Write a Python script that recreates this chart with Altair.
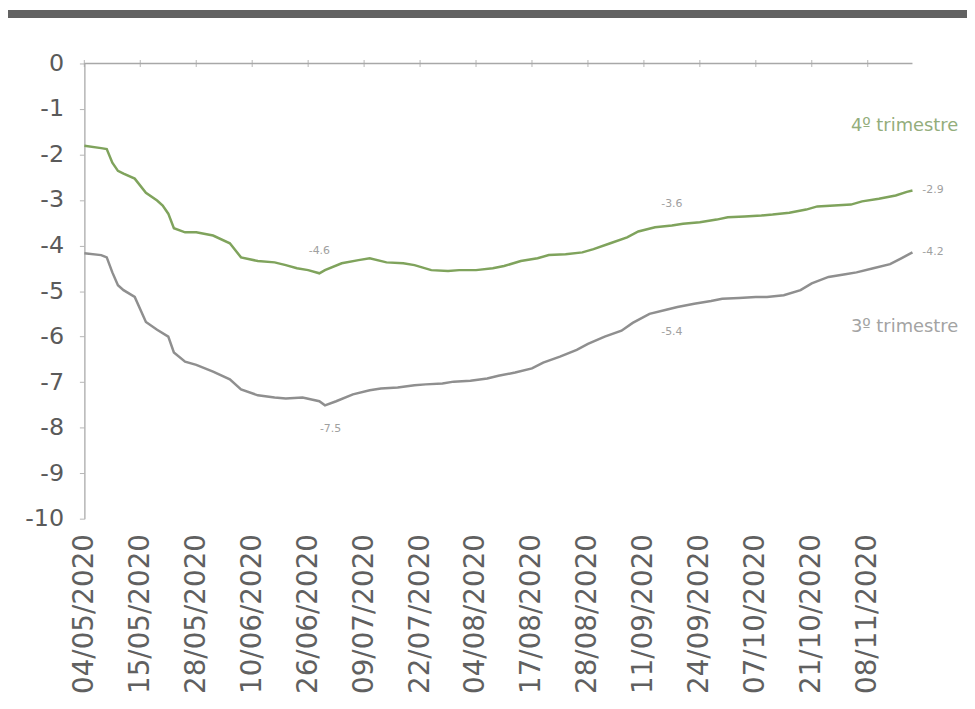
import altair as alt
import pandas as pd

# ---- data ----
tick_labels = ["04/05/2020", "15/05/2020", "28/05/2020", "10/06/2020", "26/06/2020",
               "09/07/2020", "22/07/2020", "04/08/2020", "17/08/2020", "28/08/2020",
               "11/09/2020", "24/09/2020", "07/10/2020", "21/10/2020", "08/11/2020"]
tick_index = [0, 10, 20, 30, 40, 50, 60, 70, 80, 90, 100, 110, 120, 130, 140]

q4_index = [0, 3, 4, 5, 6, 7, 9, 11, 13, 14, 15, 16, 18, 20, 23, 26, 28, 31, 34, 36,
            38, 40, 42, 43, 46, 49, 51, 54, 57, 59, 62, 65, 67, 70, 73, 75, 78, 81, 83, 86,
            89, 91, 94, 97, 99, 102, 105, 107, 110, 113, 115, 118, 121, 123, 126, 129, 131,
            134, 137, 139, 142, 145, 147, 148]
q4_values = [-1.81, -1.86, -1.88, -2.18, -2.36, -2.42, -2.53, -2.84, -3.01, -3.12, -3.30,
             -3.62, -3.71, -3.71, -3.78, -3.95, -4.26, -4.34, -4.37, -4.43, -4.50, -4.54,
             -4.61, -4.54, -4.39, -4.32, -4.28, -4.37, -4.39, -4.43, -4.54, -4.56, -4.54,
             -4.54, -4.50, -4.45, -4.34, -4.28, -4.21, -4.19, -4.15, -4.08, -3.95, -3.82,
             -3.69, -3.60, -3.56, -3.52, -3.49, -3.43, -3.38, -3.36, -3.34, -3.32, -3.28,
             -3.21, -3.14, -3.12, -3.10, -3.03, -2.97, -2.90, -2.82, -2.79]

q3_index = [0, 3, 4, 5, 6, 7, 9, 11, 13, 15, 16, 18, 20, 23, 26, 28, 31, 34, 36, 39,
            42, 43, 45, 48, 51, 53, 56, 59, 61, 64, 66, 69, 72, 74, 77, 80, 82, 85, 88, 90,
            93, 96, 98, 101, 104, 106, 109, 112, 114, 117, 120, 122, 125, 128, 130, 133,
            136, 138, 141, 144, 146, 148]
q3_values = [-4.17, -4.21, -4.26, -4.59, -4.87, -4.98, -5.13, -5.68, -5.85, -6.00, -6.35,
             -6.55, -6.62, -6.77, -6.94, -7.16, -7.29, -7.34, -7.36, -7.34, -7.42, -7.51,
             -7.42, -7.27, -7.18, -7.14, -7.12, -7.07, -7.05, -7.03, -6.99, -6.97, -6.92,
             -6.86, -6.79, -6.70, -6.57, -6.44, -6.29, -6.16, -6.00, -5.87, -5.70, -5.50,
             -5.41, -5.35, -5.28, -5.22, -5.17, -5.15, -5.13, -5.13, -5.09, -4.98, -4.83,
             -4.69, -4.63, -4.59, -4.50, -4.41, -4.28, -4.15]

series_names = ["4º trimestre", "3º trimestre"]
series_colors = ["#7fa35c", "#8f8f8f"]
name_colors = ["#93ad7c", "#a3a3a3"]
name_index = [137, 137]
name_value = [-1.38, -5.8]

above_text = ["-4.6", "-3.6"]
above_index = [42, 105]
above_value = [-4.61, -3.56]

below_text = ["-7.5", "-5.4"]
below_index = [44, 105]
below_value = [-7.51, -5.37]

end_text = ["-2.9", "-4.2"]
end_index = [148, 148]
end_value = [-2.79, -4.15]

y_ticks = list(range(-10, 1))
x_range = [0, 148]

# ---- tables ----
q4 = pd.DataFrame({"i": q4_index, "v": q4_values, "s": series_names[0]})
q3 = pd.DataFrame({"i": q3_index, "v": q3_values, "s": series_names[1]})
lines = pd.concat([q4, q3], ignore_index=True)
names = pd.DataFrame({"i": name_index, "v": name_value, "s": series_names})
above = pd.DataFrame({"i": above_index, "v": above_value, "t": above_text})
below = pd.DataFrame({"i": below_index, "v": below_value, "t": below_text})
ends = pd.DataFrame({"i": end_index, "v": end_value, "t": end_text})
ticks = pd.DataFrame({"i": tick_index, "v": [0] * len(tick_index)})
zero = pd.DataFrame({"i": [x_range[0]], "i2": [x_range[1]], "v": [0]})

label_array = "[" + ",".join("'%s'" % t for t in tick_labels) + "]"

xscale = alt.Scale(domain=x_range, nice=False, zero=False)
yscale = alt.Scale(domain=[-10, 0], nice=False)

FONT = "DejaVu Sans"

x_main = alt.X("i:Q", scale=xscale, title=None,
               axis=alt.Axis(orient="bottom", values=tick_index, domain=False, ticks=False,
                             grid=False, labelAngle=270, labelFontSize=28, labelFont=FONT,
                             labelColor="#606060", labelPadding=15,
                             labelExpr=label_array + "[round(datum.value/10)]"))
y_main = alt.Y("v:Q", scale=yscale, title=None,
               axis=alt.Axis(values=y_ticks, grid=False, domainColor="#b5b5b5", domainWidth=1.5,
                             tickColor="#b5b5b5", tickSize=5, labelFontSize=24, labelFont=FONT,
                             labelColor="#5a5a5a", labelPadding=16,
                             labelExpr="datum.value == 0 ? '0' : '-' + abs(datum.value)"))

line_layer = alt.Chart(lines).mark_line(strokeWidth=2.5).encode(
    x=x_main, y=y_main, detail="s:N",
    color=alt.Color("s:N", scale=alt.Scale(domain=series_names, range=series_colors),
                    legend=None))

# top baseline at zero with small tick marks
zero_rule = alt.Chart(zero).mark_rule(color="#a8a8a8", strokeWidth=1.5).encode(
    x=x_main, x2="i2:Q", y=y_main)
zero_ticks = alt.Chart(ticks).mark_tick(color="#a8a8a8", size=7, thickness=1.2,
                                        orient="vertical").encode(x=x_main, y=y_main)

txt_style = dict(fontSize=11, font=FONT, color="#a0a0a0")
t_above = alt.Chart(above).mark_text(dy=-22, **txt_style).encode(
    x=x_main, y=y_main, text="t:N")
t_below = alt.Chart(below).mark_text(dy=24, **txt_style).encode(
    x=x_main, y=y_main, text="t:N")
t_end = alt.Chart(ends).mark_text(dx=10, align="left", **txt_style).encode(
    x=x_main, y=y_main, text="t:N")

t_names = alt.Chart(names).mark_text(align="left", fontSize=18, font=FONT).encode(
    x=x_main, y=y_main, text="s:N",
    color=alt.Color("s:N", scale=alt.Scale(domain=series_names, range=name_colors),
                    legend=None))

band = alt.Chart(ticks).mark_rule(color="#626262", strokeWidth=7).encode(
    x=alt.value(-90), x2=alt.value(895), y=alt.value(-50))

chart = alt.layer(line_layer, zero_rule, zero_ticks, t_above, t_below, t_end, t_names,
                  band).resolve_scale(color="independent").properties(
    width=835, height=459,
    autosize=alt.AutoSizeParams(type="none"),
    padding={"left": 77, "top": 53, "right": 55, "bottom": 189},
    background="white",
).configure_view(stroke=None)

chart.save("out.html", embed_options={"renderer": "svg", "actions": False})
